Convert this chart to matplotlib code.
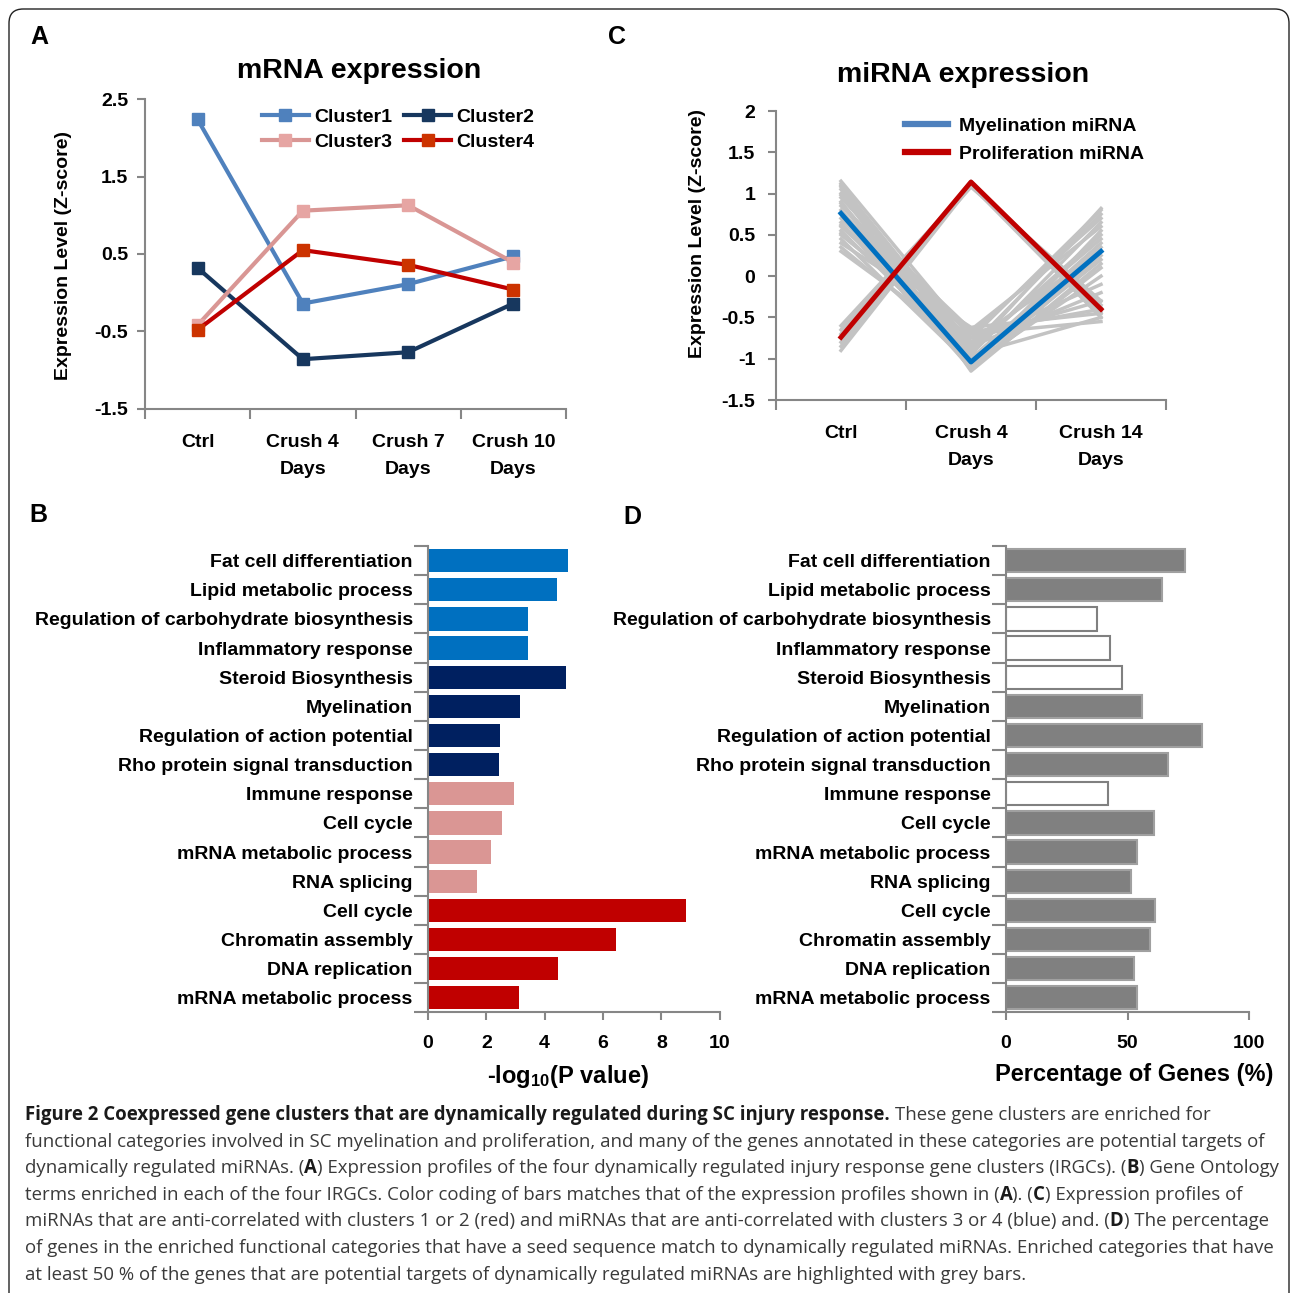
import matplotlib
matplotlib.use('Agg')
import numpy as np
import matplotlib.pyplot as plt
from matplotlib.lines import Line2D
from matplotlib.patches import FancyBboxPatch
from matplotlib.ticker import FixedLocator, FuncFormatter

# ---------------- datos ----------------

tiempos_mrna = ['Ctrl', 'Crush 4\nDays', 'Crush 7\nDays', 'Crush 10\nDays']
cluster1 = [2.24, -0.14, 0.11, 0.47]
cluster2 = [0.32, -0.86, -0.77, -0.14]
cluster3 = [-0.42, 1.06, 1.13, 0.39]
cluster4 = [-0.48, 0.55, 0.36, 0.04]

tiempos_mirna = ['Ctrl', 'Crush 4\nDays', 'Crush 14\nDays']
mielinizacion = [0.76, -1.04, 0.30]
proliferacion = [-0.74, 1.14, -0.40]
# perfiles individuales (gris), leidos aproximadamente de la figura
mirna_gris = [
    [1.15, -0.75, 0.80], [1.10, -0.85, 0.75], [1.05, -0.95, 0.65],
    [1.00, -1.10, 0.55], [0.95, -0.70, 0.70], [0.90, -1.00, 0.40],
    [0.85, -0.65, 0.60], [0.80, -1.05, 0.20], [0.70, -0.90, 0.50],
    [0.65, -1.12, 0.10], [0.60, -0.80, -0.10], [0.55, -1.00, 0.35],
    [0.50, -0.75, -0.30], [0.45, -1.08, 0.00], [0.40, -0.62, -0.45],
    [0.35, -0.95, -0.50], [0.30, -0.85, -0.20], [1.12, -1.15, 0.15],
    [0.75, -0.70, -0.55], [0.98, -0.80, 0.30], [0.62, -0.68, -0.40],
    [1.08, -0.90, 0.82], [0.88, -1.13, 0.25], [0.52, -0.88, 0.45],
    [-0.60, 1.10, -0.35], [-0.65, 1.12, -0.42], [-0.70, 1.08, -0.30],
    [-0.80, 1.15, -0.45], [-0.85, 1.13, -0.38], [-0.90, 1.10, -0.50],
    [-0.75, 1.14, -0.40],
]

terminos_go = ['Fat cell differentiation', 'Lipid metabolic process',
               'Regulation of carbohydrate biosynthesis', 'Inflammatory response',
               'Steroid Biosynthesis', 'Myelination',
               'Regulation of action potential', 'Rho protein signal transduction',
               'Immune response', 'Cell cycle', 'mRNA metabolic process',
               'RNA splicing', 'Cell cycle', 'Chromatin assembly',
               'DNA replication', 'mRNA metabolic process']
log_p = [4.81, 4.43, 3.44, 3.44, 4.74, 3.16, 2.47, 2.44,
         2.96, 2.54, 2.16, 1.68, 8.83, 6.46, 4.47, 3.13]
grupo_go = [1, 1, 1, 1, 2, 2, 2, 2, 3, 3, 3, 3, 4, 4, 4, 4]
porcentaje_genes = [73.8, 64.2, 37.6, 42.7, 47.7, 56.1, 80.5, 66.5,
                    41.8, 60.9, 53.7, 51.5, 61.1, 59.3, 52.6, 53.7]

leyenda_pie = [
    [('Figure 2 Coexpressed gene clusters that are dynamically regulated during SC injury response.', True),
     ('These gene clusters are enriched for', False)],
    [('functional categories involved in SC myelination and proliferation, and many of the genes annotated in these categories are potential targets of', False)],
    [('dynamically regulated miRNAs. (', False), ('A', True),
     (') Expression profiles of the four dynamically regulated injury response gene clusters (IRGCs). (', False),
     ('B', True), (') Gene Ontology', False)],
    [('terms enriched in each of the four IRGCs. Color coding of bars matches that of the expression profiles shown in (', False),
     ('A', True), ('). (', False), ('C', True), (') Expression profiles of', False)],
    [('miRNAs that are anti-correlated with clusters 1 or 2 (red) and miRNAs that are anti-correlated with clusters 3 or 4 (blue) and. (', False),
     ('D', True), (') The percentage', False)],
    [('of genes in the enriched functional categories that have a seed sequence match to dynamically regulated miRNAs. Enriched categories that have', False)],
    [('at least 50 % of the genes that are potential targets of dynamically regulated miRNAs are highlighted with grey bars.', False)],
]

# ---------------- estilo ----------------

plt.rcParams['font.family'] = ['Liberation Sans', 'DejaVu Sans']
plt.rcParams['font.weight'] = 'bold'
plt.rcParams['axes.unicode_minus'] = False
plt.rcParams['mathtext.default'] = 'regular'

W, H = 1290, 1293
GRIS_EJE = '#868686'
fig = plt.figure(figsize=(W / 100, H / 100), dpi=100)


def caja(x0, y0, x1, y1):
    # pixeles (origen arriba-izquierda) -> fraccion de figura
    return [x0 / W, 1 - y1 / H, (x1 - x0) / W, (y1 - y0) / H]


def estilo_ejes(ax):
    for s in ['top', 'right']:
        ax.spines[s].set_visible(False)
    for s in ['left', 'bottom']:
        ax.spines[s].set_color(GRIS_EJE)
        ax.spines[s].set_linewidth(1.5)
    ax.tick_params(which='both', color=GRIS_EJE, width=1.5, labelsize=14)


# marco redondeado
marco = FancyBboxPatch((9 / W, -0.02), (1289 - 9) / W, 1.02 - 9 / H,
                       boxstyle='round,pad=0,rounding_size=0.011',
                       transform=fig.transFigure, fill=False,
                       edgecolor='#222222', linewidth=1.0, clip_on=False)
fig.patches.append(marco)

# ---------------- A: mRNA ----------------

ax_a = fig.add_axes(caja(145, 99.3, 566, 408.7))
estilo_ejes(ax_a)
xa = np.arange(len(tiempos_mrna))
ax_a.plot(xa, cluster1, '-s', color='#4F81BD', mfc='#4F81BD', mec='#4F81BD', lw=3, ms=9, label='Cluster1')
ax_a.plot(xa, cluster2, '-s', color='#17375E', mfc='#17375E', mec='#17375E', lw=3, ms=9, label='Cluster2')
ax_a.plot(xa, cluster3, '-s', color='#D99694', mfc='#E6A5A3', mec='#E6A5A3', lw=3, ms=9, label='Cluster3')
ax_a.plot(xa, cluster4, '-s', color='#C00000', mfc='#CC3300', mec='#CC3300', lw=3, ms=9, label='Cluster4')
ax_a.set_xlim(-0.5, len(tiempos_mrna) - 0.5)
ax_a.set_ylim(-1.5, 2.5)
ax_a.set_yticks([-1.5, -0.5, 0.5, 1.5, 2.5])
ax_a.yaxis.set_major_formatter(FuncFormatter(lambda v, p: '%g' % v))
ax_a.set_xticks(xa)
ax_a.set_xticklabels(tiempos_mrna)
ax_a.xaxis.set_minor_locator(FixedLocator(np.arange(-0.5, len(tiempos_mrna), 1)))
ax_a.tick_params(axis='x', which='major', length=0, pad=18)
ax_a.tick_params(axis='x', which='minor', length=7, direction='out')
ax_a.tick_params(axis='y', length=6, pad=6)
plt.setp(ax_a.get_xticklabels(), linespacing=1.8)
h = ax_a.get_legend_handles_labels()[0]
ax_a.legend([h[0], h[2], h[1], h[3]], ['Cluster1', 'Cluster3', 'Cluster2', 'Cluster4'],
            ncol=2, loc='upper left', bbox_to_anchor=(0.278, 0.97), frameon=False,
            fontsize=14, handlelength=2.4, handletextpad=0.3, columnspacing=0.6,
            labelspacing=0.38, borderpad=0, borderaxespad=0)
fig.text(359 / W, 1 - 71 / H, 'mRNA expression', fontsize=20.5, ha='center', va='center')
fig.text(64 / W, 1 - 255 / H, 'Expression Level (Z-score)', fontsize=14,
         rotation=90, ha='center', va='center')

# ---------------- C: miRNA ----------------

ax_c = fig.add_axes(caja(776, 111, 1166, 400))
estilo_ejes(ax_c)
xc = np.arange(len(tiempos_mirna))
for perfil in mirna_gris:
    ax_c.plot(xc, perfil, color='#C3C3C3', lw=2.5, solid_joinstyle='round')
ax_c.plot(xc, mielinizacion, color='#0070C0', lw=3.5)
ax_c.plot(xc, proliferacion, color='#C00000', lw=3.5)
ax_c.set_xlim(-0.5, len(tiempos_mirna) - 0.5)
ax_c.set_ylim(-1.5, 2)
ax_c.set_yticks(np.arange(-1.5, 2.01, 0.5))
ax_c.yaxis.set_major_formatter(FuncFormatter(lambda v, p: '%g' % v))
ax_c.set_xticks(xc)
ax_c.set_xticklabels(tiempos_mirna)
ax_c.xaxis.set_minor_locator(FixedLocator(np.arange(-0.5, len(tiempos_mirna), 1)))
ax_c.tick_params(axis='x', which='major', length=0, pad=18)
ax_c.tick_params(axis='x', which='minor', length=7, direction='out')
ax_c.tick_params(axis='y', length=6, pad=9)
plt.setp(ax_c.get_xticklabels(), linespacing=1.8)
ax_c.legend([Line2D([], [], color='#4F81BD', lw=4.5), Line2D([], [], color='#C00000', lw=4.5)],
            ['Myelination miRNA', 'Proliferation miRNA'], loc='upper left',
            bbox_to_anchor=(0.331, 0.978), frameon=False, fontsize=14,
            handlelength=2.2, handletextpad=0.55, labelspacing=0.55,
            borderpad=0, borderaxespad=0)
fig.text(963 / W, 1 - 75 / H, 'miRNA expression', fontsize=20.5, ha='center', va='center')
fig.text(697 / W, 1 - 234 / H, 'Expression Level (Z-score)', fontsize=14,
         rotation=90, ha='center', va='center')

# ---------------- B y D: barras ----------------

colores_grupo = {1: '#0070C0', 2: '#002060', 3: '#DA9694', 4: '#C00000'}
yb = np.arange(len(terminos_go))


def ejes_barras(ax, xmax, xticks):
    estilo_ejes(ax)
    ax.set_ylim(len(terminos_go) - 0.5, -0.5)
    ax.set_yticks(yb)
    ax.set_yticklabels(terminos_go)
    ax.yaxis.set_minor_locator(FixedLocator(np.arange(-0.5, len(terminos_go), 1)))
    ax.tick_params(axis='y', which='major', length=0, pad=11)
    ax.tick_params(axis='y', which='minor', length=10, direction='out')
    ax.set_xlim(0, xmax)
    ax.set_xticks(xticks)
    ax.tick_params(axis='x', length=6, pad=10)


ax_b = fig.add_axes(caja(428, 546, 719.7, 1012.4))
ax_b.barh(yb, log_p, height=0.8, color=[colores_grupo[g] for g in grupo_go])
ejes_barras(ax_b, 10, [0, 2, 4, 6, 8, 10])
fig.text(568 / W, 1 - 1077 / H, r'-log$_{\mathregular{10}}$(P value)', fontsize=17,
         ha='center', va='center')

ax_d = fig.add_axes(caja(1006, 546, 1249.2, 1012.4))
relleno = ['#808080' if p >= 50 else 'white' for p in porcentaje_genes]
borde = ['#A0A0A0' if p >= 50 else '#808080' for p in porcentaje_genes]
ax_d.barh(yb, porcentaje_genes, height=0.8, color=relleno, edgecolor=borde, linewidth=1.5)
ejes_barras(ax_d, 100, [0, 50, 100])
fig.text(1134 / W, 1 - 1075 / H, 'Percentage of Genes (%)', fontsize=17,
         ha='center', va='center')

# letras de panel
for letra, px, py in [('A', 39, 37), ('C', 617, 37), ('B', 38, 515), ('D', 632, 517)]:
    fig.text(px / W, 1 - py / H, letra, fontsize=18, ha='center', va='center')

# ---------------- pie de figura ----------------

render = fig.canvas.get_renderer()
fuente_pie = ['Open Sans', 'DejaVu Sans']
prueba = fig.text(0, 0, leyenda_pie[1][0][0], fontsize=12, fontweight='normal', family=fuente_pie)
ancho = prueba.get_window_extent(renderer=render).width
prueba.remove()
tam_pie = 12 * (1262 - 25) / ancho

for i, linea in enumerate(leyenda_pie):
    x = 25
    y = 1115 + i * 26.6
    for j, (texto, negrita) in enumerate(linea):
        if j == 1 and i == 0:
            x += 0.27 * tam_pie * 100 / 72
        t = fig.text(x / W, 1 - y / H, texto, fontsize=tam_pie,
                     fontweight='bold' if negrita else 'normal', family=fuente_pie,
                     color='#1a1a1a' if negrita else '#3a3a3a', ha='left', va='center')
        x += t.get_window_extent(renderer=render).width

fig.savefig('out.png', dpi=100)
